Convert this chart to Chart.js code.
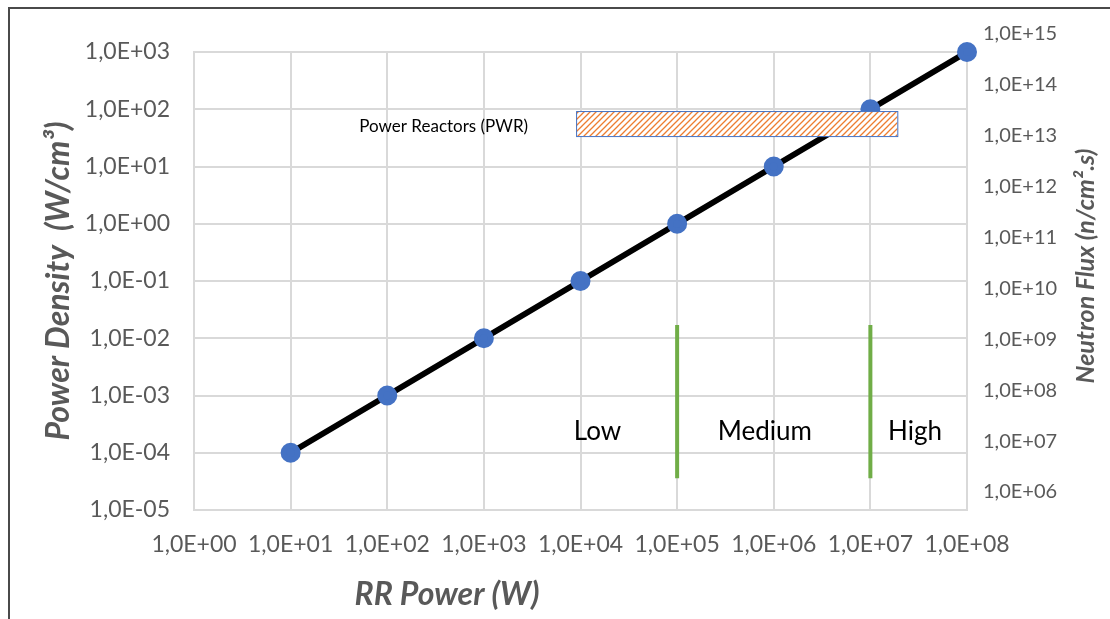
<!DOCTYPE html>
<html>
<head>
<meta charset="utf-8">
<script src="https://cdn.jsdelivr.net/npm/chart.js@4.4.0/dist/chart.umd.min.js"></script>
<style>
  html, body { margin: 0; padding: 0; background: #fff; }
  #wrap { position: relative; width: 1110px; height: 619px; overflow: hidden; }
  #frame { position: absolute; left: 8px; top: 7px; width: 1200px; height: 700px;
           border-top: 2px solid #4a4a4a; border-left: 2px solid #4a4a4a; }
  canvas { position: absolute; left: 0; top: 0; }
</style>
</head>
<body>
<div id="wrap">
  <div id="frame"></div>
  <canvas id="chart" width="1110" height="619"></canvas>
</div>
<script>
// ─── Datos ───────────────────────────────────────────────────────────────────
const rrPower      = [1e1, 1e2, 1e3, 1e4, 1e5, 1e6, 1e7, 1e8];
const powerDensity = [1e-4, 1e-3, 1e-2, 1e-1, 1e0, 1e1, 1e2, 1e3];

const xTicks      = [1e0, 1e1, 1e2, 1e3, 1e4, 1e5, 1e6, 1e7, 1e8];
const xTickLabels = ['1,0E+00', '1,0E+01', '1,0E+02', '1,0E+03', '1,0E+04',
                     '1,0E+05', '1,0E+06', '1,0E+07', '1,0E+08'];
const yTicks      = [1e-5, 1e-4, 1e-3, 1e-2, 1e-1, 1e0, 1e1, 1e2, 1e3];
const yTickLabels = ['1,0E-05', '1,0E-04', '1,0E-03', '1,0E-02', '1,0E-01',
                     '1,0E+00', '1,0E+01', '1,0E+02', '1,0E+03'];
const fluxTicks      = [1e6, 1e7, 1e8, 1e9, 1e10, 1e11, 1e12, 1e13, 1e14, 1e15];
const fluxTickLabels = ['1,0E+06', '1,0E+07', '1,0E+08', '1,0E+09', '1,0E+10',
                        '1,0E+11', '1,0E+12', '1,0E+13', '1,0E+14', '1,0E+15'];
const fluxRange = [4.43e5, 4.43e14];

// límites de régimen (Low / Medium / High)
const regimeBounds  = [1e5, 1e7];
const regimeLineY   = [3.6e-5, 0.017];
const regimeLabels  = ['Low', 'Medium', 'High'];
const regimeLabelX  = [1.5e4, 8.1e5, 2.9e7];
const regimeLabelY  = 2.3e-4;

// banda de reactores de potencia
const pwrLabel  = 'Power Reactors (PWR)';
const pwrRangeX = [9e3, 1.9e7];
const pwrRangeY = [34, 93];

const GRAY = '#595959';
const GRID = '#d9d9d9';

// ─── Helpers ─────────────────────────────────────────────────────────────────
function hatchPattern(ctx) {
  const p = document.createElement('canvas');
  p.width = 6; p.height = 6;
  const pc = p.getContext('2d');
  pc.fillStyle = '#fff';
  pc.fillRect(0, 0, 6, 6);
  pc.strokeStyle = '#ED7D31';
  pc.lineWidth = 1.3;
  pc.beginPath();
  pc.moveTo(0, 6); pc.lineTo(6, 0);
  pc.moveTo(-3, 3); pc.lineTo(3, -3);
  pc.moveTo(3, 9); pc.lineTo(9, 3);
  pc.stroke();
  return ctx.createPattern(p, 'repeat');
}

const annotations = {
  id: 'annotations',
  afterDatasetsDraw(chart) {
    const { ctx, scales: { x, y } } = chart;
    ctx.save();

    // caja PWR (encima de la serie)
    const l = x.getPixelForValue(pwrRangeX[0]);
    const r = x.getPixelForValue(pwrRangeX[1]);
    const t = y.getPixelForValue(pwrRangeY[1]);
    const b = y.getPixelForValue(pwrRangeY[0]);
    ctx.fillStyle = hatchPattern(ctx);
    ctx.fillRect(l, t, r - l, b - t);
    ctx.strokeStyle = '#4472C4';
    ctx.lineWidth = 1;
    ctx.strokeRect(l + 0.5, t + 0.5, r - l, b - t);

    ctx.fillStyle = '#000';
    ctx.font = '17px Lato';
    ctx.textAlign = 'right';
    ctx.textBaseline = 'middle';
    ctx.fillText(pwrLabel, l - 48, (t + b) / 2 + 3);

    // etiquetas de régimen
    ctx.font = '26px Lato';
    ctx.textAlign = 'center';
    regimeLabels.forEach((txt, i) => {
      ctx.fillText(txt, x.getPixelForValue(regimeLabelX[i]), y.getPixelForValue(regimeLabelY));
    });

    // títulos de ejes (x y derecho)
    ctx.fillStyle = GRAY;
    ctx.font = 'italic bold 32px Lato';
    ctx.fillText('RR Power (W)', 447, 595);

    ctx.translate(1086, 266);
    ctx.rotate(-Math.PI / 2);
    ctx.font = 'italic bold 25px Lato';
    ctx.fillText('Neutron Flux (n/cm\u00B2.s)', 0, 0);
    ctx.restore();
  }
};

// ─── Chart ───────────────────────────────────────────────────────────────────
const regimeDatasets = regimeBounds.map(v => ({
  data: regimeLineY.map(yy => ({ x: v, y: yy })),
  showLine: true,
  borderColor: '#70AD47',
  borderWidth: 4,
  pointRadius: 0,
  order: 2,
}));

new Chart(document.getElementById('chart'), {
  type: 'scatter',
  data: {
    datasets: [
      {
        data: rrPower.map((v, i) => ({ x: v, y: powerDensity[i] })),
        showLine: true,
        borderColor: '#000',
        borderWidth: 6,
        pointRadius: 7,
        pointBackgroundColor: '#4472C4',
        pointBorderColor: '#4472C4',
        clip: 12,
        order: 1,
      },
      ...regimeDatasets,
    ],
  },
  options: {
    responsive: false,
    animation: false,
    layout: { padding: { left: 0, right: 0, top: 52, bottom: 0 } },
    plugins: { legend: { display: false }, tooltip: { enabled: false } },
    scales: {
      x: {
        type: 'logarithmic',
        min: 1e0, max: 1e8,
        afterBuildTicks: s => { s.ticks = xTicks.map(v => ({ value: v })); },
        afterFit: s => { s.height = 109; },
        grid: { color: GRID, lineWidth: 2, drawTicks: false },
        border: { color: GRID, width: 2 },
        ticks: {
          padding: 21, color: GRAY, font: { family: 'Lato', size: 23 },
          maxRotation: 0, autoSkip: false,
          callback: (v, i) => xTickLabels[i],
        },
      },
      y: {
        type: 'logarithmic',
        position: 'left',
        min: 1e-5, max: 1e3,
        afterBuildTicks: s => { s.ticks = yTicks.map(v => ({ value: v })); },
        afterFit: s => { s.width = 194; },
        grid: { color: GRID, lineWidth: 2, drawTicks: false },
        border: { color: GRID, width: 2 },
        ticks: {
          padding: 24, color: GRAY, font: { family: 'Lato', size: 23 },
          autoSkip: false,
          callback: (v, i) => yTickLabels[i],
        },
        title: {
          display: true,
          text: 'Power Density  (W/cm\u00B3)',
          color: GRAY,
          font: { family: 'Lato', size: 32, weight: 'bold', style: 'italic' },
          padding: { top: 39, bottom: 0 },
        },
      },
      y2: {
        type: 'logarithmic',
        position: 'right',
        min: fluxRange[0], max: fluxRange[1],
        afterBuildTicks: s => { s.ticks = fluxTicks.map(v => ({ value: v })); },
        afterFit: s => { s.width = 143; },
        grid: { display: false, drawTicks: false },
        border: { display: false },
        ticks: {
          padding: 16, color: GRAY, font: { family: 'Lato', size: 20 },
          autoSkip: false,
          callback: (v, i) => fluxTickLabels[i],
        },
      },
    },
  },
  plugins: [annotations],
});
</script>
</body>
</html>
